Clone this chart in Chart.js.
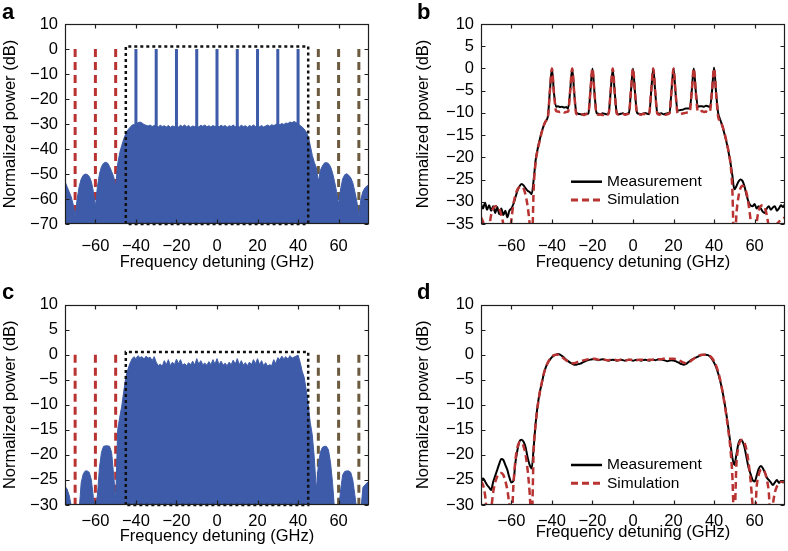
<!DOCTYPE html>
<html><head><meta charset="utf-8">
<script src="https://cdn.jsdelivr.net/npm/chart.js@4.4.1/dist/chart.umd.min.js"></script>
<style>
html,body{margin:0;padding:0;background:#fff;}
#wrap{position:relative;width:788px;height:551px;overflow:hidden;background:#fff;}
canvas{position:absolute;}
.lab{position:absolute;font:bold 22px "Liberation Sans",Arial,Helvetica,sans-serif;line-height:22px;color:#000;}
</style></head><body>
<div id="wrap">
<canvas id="cA" width="394" height="275" style="left:0;top:0"></canvas>
<canvas id="cB" width="394" height="275" style="left:394px;top:0"></canvas>
<canvas id="cC" width="394" height="276" style="left:0;top:275px"></canvas>
<canvas id="cD" width="394" height="276" style="left:394px;top:275px"></canvas>
<div class="lab" style="left:2px;top:1px">a</div>
<div class="lab" style="left:417px;top:1px">b</div>
<div class="lab" style="left:2px;top:281px">c</div>
<div class="lab" style="left:417px;top:281px">d</div>
</div>
<script>
// ---------- data ----------
const freqMin = -75, freqMax = 75;
const freqGHz = [
-75,-74,-73,-72,-71,-70,-69,-68,-67,-66,
-65,-64,-63,-62,-61,-60,-59,-58,-57,-56,
-55,-54,-53,-52,-51,-50,-49,-48,-47,-46,
-45,-44,-43,-42,-41,-40,-39,-38,-37,-36,
-35,-34,-33,-32,-31,-30,-29,-28,-27,-26,
-25,-24,-23,-22,-21,-20,-19,-18,-17,-16,
-15,-14,-13,-12,-11,-10,-9,-8,-7,-6,
-5,-4,-3,-2,-1,0,1,2,3,4,
5,6,7,8,9,10,11,12,13,14,
15,16,17,18,19,20,21,22,23,24,
25,26,27,28,29,30,31,32,33,34,
35,36,37,38,39,40,41,42,43,44,
45,46,47,48,49,50,51,52,53,54,
55,56,57,58,59,60,61,62,63,64,
65,66,67,68,69,70,71,72,73,74,75];

const xTickValues = [-60,-40,-20,0,20,40,60];
const yTicksA = [-70,-60,-50,-40,-30,-20,-10,0,10];
const yTicksB = [-35,-30,-25,-20,-15,-10,-5,0,5,10];
const yTicksCD = [-30,-25,-20,-15,-10,-5,0,5,10];

// panel a: pulse spectrum (dB)
const spectrumA = [
-53,-55,-57,-59,-62,-67,-60,-55,-52,-50.5,
-50,-50.2,-51,-53,-57,-63,-55,-50,-47,-45.7,
-45.3,-45.6,-47,-49,-51,-55,-46,-41.5,-38.5,-36,
-33.8,-32.3,-31.5,-30.5,-30.2,-30,-29.5,-29.2,-29.6,-30.2,
-30.5,-30.8,-30.4,-31,-30.6,-30.8,-31.2,-30.5,-31,-30.7,
-31.2,-30.6,-31.3,-30.8,-31,-30.7,-31.2,-30.5,-31,-30.4,
-31.1,-30.6,-31.3,-30.8,-31,-30.6,-31.2,-30.5,-30.9,-30.4,
-31.1,-30.7,-31.2,-30.6,-31,-30.6,-31.2,-30.5,-31,-30.6,
-31.3,-30.7,-31,-30.4,-31.1,-30.6,-31.2,-30.5,-31,-30.7,
-31.3,-30.6,-31,-30.4,-31,-30.5,-31.1,-30.6,-31.2,-30.8,
-30.4,-30.9,-30.3,-30.6,-30.2,-30,-30.3,-29.8,-30.2,-29.6,
-29.8,-29.2,-29.5,-29,-29.4,-30,-30.6,-31.2,-32,-33.2,
-35,-38.5,-42.5,-45.3,-47.5,-53,-48.5,-46.8,-45.6,-45.4,
-45.8,-47,-49.5,-53,-57,-62,-56,-52,-50.3,-49.9,
-50.5,-51.5,-53.5,-57,-61,-67,-60,-57,-55.5,-54.8,-54.3];
const combFreqA = [-40,-30,-20,-10,0,10,20,30,40];
const combPeakA = [0,0,0,0,0,0,0,0,0];

// panel c: spectrum (dB)
const spectrumC = [
-26.3,-26.8,-28,-30,-31,-31,-31,-31,-25.5,-23.8,
-23.2,-23.2,-23.5,-25,-28.5,-31,-28,-22.5,-19.5,-18.3,
-18.2,-18.2,-18.3,-19.5,-24,-29,-15,-12.5,-10.3,-7.3,
-4.5,-3,-1.8,-0.9,-0.4,-0.8,-0.2,-0.6,-0.4,-0.9,
-0.3,-0.7,-0.5,-1.2,-0.4,-1.5,-2.2,-1.9,-2.3,-1.2,
-2,-1,-2.2,-1.5,-2,-0.9,-1.8,-1,-2.1,-1.8,
-2.2,-1.6,-2,-1.3,-2.1,-0.8,-1.9,-1.2,-2,-1.7,
-2.1,-1.4,-2,-1,-1.9,-0.8,-2,-1.3,-2.1,-1.7,
-2.2,-1.5,-2,-1.1,-1.9,-0.8,-2,-1.2,-2.1,-1.6,
-2.2,-1.5,-2,-1,-1.8,-0.8,-2,-1.2,-2.2,-1.6,
-2.3,-2,-2.2,-1,-1.8,-0.6,-1,-0.3,-0.8,-0.4,
-0.9,-0.2,-0.7,-0.5,-0.3,-0.1,-1.5,-3.3,-4.5,-7,
-10,-13.5,-16,-20.5,-27,-22,-19.5,-18.5,-18.3,-18.3,
-19,-21.5,-25.5,-31,-31,-31,-27,-24,-23.3,-23.2,
-23.2,-23.5,-25,-28,-31,-31,-31,-26.5,-26,-25.6,-25.3];

// markers and filter window (panels a, c)
const leftMarkFreq = [-70,-60,-50];
const rightMarkFreq = [50,60,70];
const markTop = 0;
const windowFreq = [-45,45];
const windowTopA = 1;
const windowTopC = 0.5;

// panel b
const measB = [
-30.5,-31.5,-30.2,-31.8,-30.8,-32,-31,-32.5,-31.2,-32.8,
-31.5,-33,-32,-33.5,-32,-31.5,-30.5,-29,-27.5,-26.5,
-26,-26.3,-27,-27.5,-27.8,-28.3,-25,-20.5,-18,-16,
-14.2,-12.8,-11.8,-10.8,-5,0,-5.5,-8.6,-8.5,-8.7,
-8.6,-8.8,-8.7,-9,-5,0,-5.5,-9.8,-10.2,-10.3,
-10.4,-10.2,-10.3,-10.1,-5,0,-5.5,-10,-10.2,-10.3,
-10.1,-10.2,-10.3,-10,-5,-0.3,-5.5,-10,-10.3,-10.2,
-10.1,-10.3,-10.2,-10,-5,0,-5.5,-10,-10.2,-10.3,
-10.2,-10,-10.2,-10.3,-5,0,-5.5,-10,-10.2,-10.1,
-10.3,-10.2,-10.1,-10,-5,0,-5.5,-9.5,-9.4,-9.3,
-9.2,-9,-9,-9,-5,0,-5.2,-8.6,-8.5,-8.5,
-8.6,-8.4,-8.5,-8.7,-5,0.2,-5.5,-10,-11.5,-12.8,
-14.5,-16.3,-18.5,-21,-24,-27.2,-26.5,-25.5,-25,-25.3,
-26.5,-28.5,-30,-30.8,-31,-30.5,-31.5,-31,-31.5,-32.2,
-32.5,-31.5,-31,-31.8,-31.3,-31,-32,-31.5,-30.8,-31.2,-30.5];
const simB = [
-33.5,-34.5,-37,-40,-36,-33,-31.5,-31,-31,-31.5,
-33,-35,-38,-42,-38,-34,-30.5,-28.5,-27.2,-26.7,
-26.6,-27,-28.5,-31,-35,-42,-27,-21,-18.2,-16.2,
-14.3,-12.8,-11.8,-11,-5,0,-5.5,-9.5,-9.7,-9.8,
-9.6,-9.9,-9.8,-9.7,-5,0,-5.5,-10.2,-10.4,-10.5,
-10.3,-10.5,-10.2,-10,-5,0,-5.5,-10.2,-10.4,-10.3,
-10.5,-10.2,-10.4,-10.1,-5,0,-5.5,-10.2,-10.4,-10.3,
-10.2,-10.4,-10.3,-10.1,-5,0,-5.5,-10.1,-10.3,-10.4,
-10.2,-10.3,-10.4,-10.1,-5,0,-5.5,-10.2,-10.4,-10.3,
-10.2,-10.4,-10.3,-10.1,-5,0,-5.5,-10.1,-10.3,-10.2,
-10.1,-10,-9.9,-9.8,-5,0,-5.5,-9.7,-9.8,-9.6,
-9.8,-9.7,-9.9,-9.6,-5,0,-5.5,-10.8,-11.8,-12.8,
-14.3,-16.2,-18.3,-21,-27,-42,-33,-29,-27,-26.4,
-26.8,-28,-30.5,-34,-38,-42,-35,-32,-31,-30.8,
-31.3,-33,-36,-42,-38,-36,-35,-34.5,-34,-33.8,-33.5];

// panel d
const measD = [
-25,-24.7,-25.3,-26,-26.5,-27,-25.4,-24.2,-23,-21.8,
-20.8,-21,-22,-23,-24.5,-25.5,-25.2,-21.5,-19,-17.3,
-17,-17.4,-18.5,-20.5,-22,-22.7,-18.5,-13.5,-10,-7.5,
-5.7,-3.8,-2.5,-1.6,-1,-0.5,-0.2,0,0.1,0,
-0.3,-0.6,-1,-1.3,-1.6,-1.8,-2,-2,-1.9,-1.8,
-1.6,-1.4,-1.2,-1.1,-1,-0.9,-0.9,-1,-1.1,-1,
-0.9,-1,-1.1,-1.2,-1.1,-1,-1.1,-1.2,-1.1,-1,
-1.1,-1.2,-1.1,-1,-1.1,-1.2,-1.1,-1,-1.1,-1.2,
-1.1,-1,-1.1,-1.2,-1.1,-1,-1.1,-1,-0.9,-1,
-1.1,-1.2,-1.3,-1.2,-1.1,-1.2,-1.3,-1.5,-1.7,-1.9,
-2,-1.9,-1.6,-1.3,-1,-0.8,-0.6,-0.4,-0.2,-0.1,
0,0,-0.1,-0.4,-0.9,-1.6,-2.5,-3.7,-5.2,-7,
-9.2,-11.7,-14.5,-17.5,-20.5,-22,-20,-17.8,-17,-17.3,
-18.5,-20.5,-22.5,-23.8,-25,-25.3,-24.2,-22.8,-22.2,-22.6,
-23.5,-24.5,-25,-25.5,-26,-25.5,-25,-25.6,-25.2,-25.5,-25];
const simD = [
-25.3,-26,-28,-32,-34,-31,-27.5,-25.5,-24.3,-23.7,
-23.6,-24,-25.2,-27,-30,-34,-26,-21,-18.5,-17.5,
-17.5,-18.3,-20,-23,-27.5,-34,-19,-13.8,-10.2,-7.6,
-5.6,-3.8,-2.5,-1.6,-0.9,-0.4,-0.1,0,0,-0.2,
-0.5,-0.8,-1.1,-1.4,-1.6,-1.7,-1.7,-1.6,-1.4,-1.3,
-1.2,-1.1,-1,-0.9,-0.8,-0.8,-0.8,-0.9,-1,-1,
-1,-1,-1.1,-1.1,-1,-1,-1,-1.1,-1.1,-1,
-1,-1.1,-1.1,-1,-1,-1,-1.1,-1.1,-1,-1,
-1,-1.1,-1.1,-1,-1,-1,-1,-1,-0.9,-0.9,
-0.8,-0.8,-0.8,-0.8,-0.8,-0.8,-0.9,-1,-1.2,-1.4,
-1.6,-1.7,-1.6,-1.4,-1.1,-0.8,-0.5,-0.3,-0.1,0,
0,0,-0.1,-0.3,-0.7,-1.3,-2.2,-3.4,-5,-7,
-9.4,-12,-15,-18.5,-24,-34,-22,-18.5,-17.2,-17,
-17.6,-19,-21.5,-25,-30,-34,-26.5,-24,-23,-22.9,
-23.4,-24.8,-27.5,-34,-30,-27.5,-26.3,-25.7,-25.4,-25.3,-25.3];

const xTitle = 'Frequency detuning (GHz)';
const yTitle = 'Normalized power (dB)';
const seriesNames = ['Measurement', 'Simulation'];

// ---------- styling ----------
const FONT = '"Liberation Sans", Arial, Helvetica, sans-serif';
Chart.defaults.font.family = FONT;
Chart.defaults.color = '#000';
const BLUE = '#3D5BA8', RED = '#B83331', BROWN = '#6B5A3E';

function pts(xs, ys){ return xs.map((x,i)=>({x:x, y:ys[i]})); }
function vlines(xs, tops, bottom){
  const out=[]; xs.forEach((x,i)=>{ const t = Array.isArray(tops)?tops[i]:tops; out.push({x:x,y:t},{x:x,y:bottom},{x:x,y:null}); }); return out;
}
function rect(xs, top, bottom){
  return [{x:xs[0],y:bottom},{x:xs[0],y:top},{x:xs[1],y:top},{x:xs[1],y:bottom},{x:xs[0],y:bottom}];
}
const fmt = v => String(v).replace('-', '\u2212');

const framePlugin = {
  id: 'frame',
  afterDatasetsDraw(chart) {
    const {ctx, chartArea: a, scales} = chart;
    const L = Math.round(a.left)+0.5, R = Math.round(a.right)-0.5, T = Math.round(a.top)+0.5, B = Math.round(a.bottom)-0.5;
    ctx.save();
    ctx.strokeStyle = '#1e1e1e'; ctx.lineWidth = 1.2; ctx.setLineDash([]);
    ctx.strokeRect(L, T, R-L, B-T);
    const tl = 4;
    ctx.beginPath();
    scales.x.ticks.forEach(t => { const px = Math.round(scales.x.getPixelForValue(t.value))+0.5;
      ctx.moveTo(px,B); ctx.lineTo(px,B-tl); ctx.moveTo(px,T); ctx.lineTo(px,T+tl); });
    scales.y.ticks.forEach(t => { const py = Math.round(scales.y.getPixelForValue(t.value))+0.5;
      ctx.moveTo(L,py); ctx.lineTo(L+tl,py); ctx.moveTo(R,py); ctx.lineTo(R-tl,py); });
    ctx.stroke();
    ctx.restore();
  }
};
const legendPlugin = {
  id: 'inlegend',
  afterDraw(chart, args, opts) {
    if (!opts || !opts.ys) return;
    const ctx = chart.ctx;
    ctx.save();
    opts.items.forEach((idx,i) => {
      const ds = chart.data.datasets[idx]; const y = opts.ys[i];
      ctx.strokeStyle = ds.borderColor; ctx.lineWidth = ds.borderWidth + 0.5;
      ctx.setLineDash(ds.borderDash || []);
      ctx.beginPath(); ctx.moveTo(opts.x0, y); ctx.lineTo(opts.x1, y); ctx.stroke();
      ctx.setLineDash([]);
      ctx.fillStyle = '#000'; ctx.font = opts.font; ctx.textBaseline = 'middle'; ctx.textAlign = 'left';
      ctx.fillText(ds.label, opts.tx, y);
    });
    ctx.restore();
  }
};

function makePanel(id, cfg) {
  new Chart(document.getElementById(id), {
    type: 'line',
    data: { datasets: cfg.datasets },
    options: {
      responsive: false, animation: false, devicePixelRatio: 1, events: [],
      layout: { padding: cfg.padding },
      elements: { point: { radius: 0 }, line: { tension: 0 } },
      plugins: { legend: {display:false}, tooltip: {enabled:false}, inlegend: cfg.legend || {} },
      scales: {
        x: { type: 'linear', min: freqMin, max: freqMax,
          afterBuildTicks: s => { s.ticks = xTickValues.map(v => ({value: v})); },
          afterFit: s => { s.height = cfg.xH; },
          grid: {display: false, drawTicks: false}, border: {display: false},
          ticks: { font: {size: 16.5}, color: '#000', padding: cfg.xTickPad, maxRotation: 0, autoSkip: false, callback: fmt },
          title: { display: true, text: xTitle, font: {size: 16.5}, color: '#000', padding: {top: 0, bottom: cfg.xTitlePad} } },
        y: { type: 'linear', min: cfg.yTicks[0], max: cfg.yTicks[cfg.yTicks.length-1],
          afterBuildTicks: s => { s.ticks = cfg.yTicks.map(v => ({value: v})); },
          afterFit: s => { s.width = cfg.yW; },
          grid: {display: false, drawTicks: false}, border: {display: false},
          ticks: { font: {size: 16.5}, color: '#000', padding: 7, autoSkip: false, callback: fmt },
          title: { display: true, text: yTitle, font: {size: 16.5}, color: '#000', padding: {top: cfg.yTitlePad, bottom: 0} } }
      }
    },
    plugins: [framePlugin, legendPlugin]
  });
}

function spectrumSets(spec, yMin, winTop, withComb) {
  const sets = [
    {label: 'window', data: rect(windowFreq, winTop, yMin), borderColor: '#111', borderWidth: 2.5, borderDash: [3,3], fill: false, order: 0, clip: 5},
    {label: 'spectrum', data: pts(freqGHz, spec), borderColor: BLUE, backgroundColor: BLUE, borderWidth: 1, fill: 'start', order: 2},
    {label: 'left', data: vlines(leftMarkFreq, markTop, yMin), borderColor: RED, borderWidth: 3, borderDash: [8,5], fill: false, order: 3},
    {label: 'right', data: vlines(rightMarkFreq, markTop, yMin), borderColor: BROWN, borderWidth: 3, borderDash: [8,5], fill: false, order: 3}
  ];
  if (withComb) sets.push({label: 'comb', data: vlines(combFreqA, combPeakA, yMin), borderColor: BLUE, borderWidth: 3, fill: false, order: 1});
  return sets;
}
function compareSets(meas, sim) {
  return [
    {label: seriesNames[1], data: pts(freqGHz, sim), borderColor: RED, borderWidth: 2.5, borderDash: [7,4], fill: false, order: 0, cubicInterpolationMode: 'monotone'},
    {label: seriesNames[0], data: pts(freqGHz, meas), borderColor: '#000', borderWidth: 2, fill: false, order: 1, cubicInterpolationMode: 'monotone'}
  ];
}

makePanel('cA', { datasets: spectrumSets(spectrumA, yTicksA[0], windowTopA, true), yTicks: yTicksA,
  padding: {top: 24, right: 25, left: 0, bottom: 0}, yW: 65, xH: 51, xTickPad: 12.5, xTitlePad: 3, yTitlePad: 1 });
makePanel('cB', { datasets: compareSets(measB, simB), yTicks: yTicksB,
  padding: {top: 24, right: 3, left: 0, bottom: 0}, yW: 87, xH: 51, xTickPad: 12.5, xTitlePad: 3, yTitlePad: 20,
  legend: {items: [1, 0], ys: [181.7, 200], x0: 177, x1: 208, tx: 213, font: '15.5px ' + FONT} });
makePanel('cC', { datasets: spectrumSets(spectrumC, yTicksCD[0], windowTopC, false), yTicks: yTicksCD,
  padding: {top: 29.5, right: 25, left: 0, bottom: 0}, yW: 65, xH: 46, xTickPad: 6.9, xTitlePad: 4.6, yTitlePad: 1 });
makePanel('cD', { datasets: compareSets(measD, simD), yTicks: yTicksCD,
  padding: {top: 29.5, right: 3, left: 0, bottom: 0}, yW: 87, xH: 46, xTickPad: 6.2, xTitlePad: 8.6, yTitlePad: 20,
  legend: {items: [1, 0], ys: [190, 208.3], x0: 177, x1: 208, tx: 213, font: '15.5px ' + FONT} });
</script>
</body></html>
